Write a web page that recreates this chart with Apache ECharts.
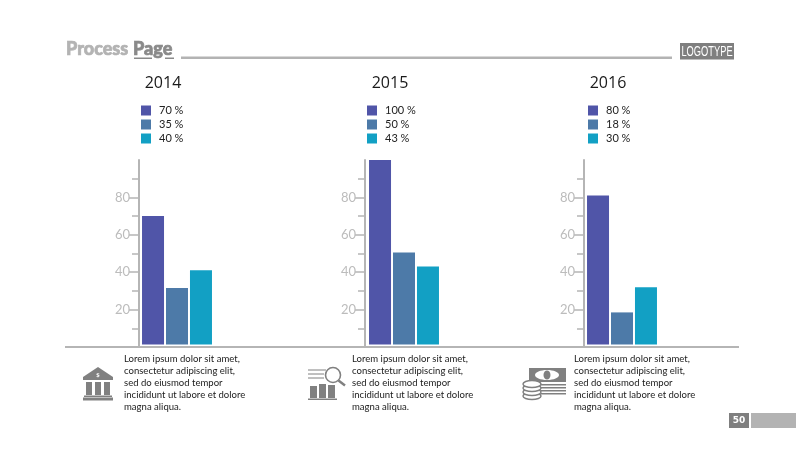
<!DOCTYPE html>
<html><head><meta charset="utf-8">
<style>html,body{margin:0;padding:0;background:#fff}#c{width:800px;height:454px}</style>
<script src="https://cdn.jsdelivr.net/npm/echarts@6/dist/echarts.min.js"></script>
</head><body><div id="c"></div>
<script>
const years = ['2014','2015','2016'];
const legend2014 = ['70 %','35 %','40 %'];
const legend2015 = ['100 %','50 %','43 %'];
const legend2016 = ['80 %','18 %','30 %'];
const values2014 = [70,31.5,41];
const values2015 = [100,50.5,43];
const values2016 = [81,18.5,32];
const majorTicks = [20,40,60,80];
const minorTicks = [10,30,50,70,90];
const colors = ['#5055a8','#4d7aa8','#12a0c4'];
const loremLines = ['Lorem ipsum dolor sit amet,','consectetur adipiscing elit,','sed do eiusmod tempor','incididunt ut labore et dolore','magna aliqua.'];

const legends=[legend2014,legend2015,legend2016], vals=[values2014,values2015,values2016];
const gridX=[139,365,584], gridW=[76,78,76], legX=[141,367,588], yearX=[163,390,608], textX=[124,352,574];
const AX='#b5b5b5', ICON='#808080', body='Open Sans';

const grid=[],xAxis=[],yAxis=[],series=[],legend=[],graphic=[];
const txt=(x,y,s,o,extra)=>Object.assign({type:'text',x,y,silent:true,z:20,style:Object.assign({text:s,fill:'#222',fontFamily:body,fontSize:10,textVerticalAlign:'middle'},o||{})},extra||{});
const rect=(x,y,w,h,f,z)=>({type:'rect',silent:true,z:z||20,shape:{x,y,width:w,height:h},style:{fill:f}});
const line=(x1,y1,x2,y2,c,w)=>({type:'line',silent:true,z:20,shape:{x1,y1,x2,y2},style:{stroke:c,lineWidth:w||1}});
const poly=(pts,f)=>({type:'polygon',silent:true,z:20,shape:{points:pts},style:{fill:f}});
const ring=(cx,cy,r,c,w)=>({type:'circle',silent:true,z:21,shape:{cx,cy,r},style:{fill:'#fff',stroke:c,lineWidth:w}});

years.forEach((yr,i)=>{
  grid.push({left:gridX[i],top:160,width:gridW[i],height:187});
  xAxis.push({type:'category',gridIndex:i,data:[yr],show:false});
  const base={type:'value',gridIndex:i,min:0,max:100,interval:20,splitLine:{show:false},position:'left'};
  yAxis.push(Object.assign({},base,{
    axisLine:{show:true,lineStyle:{color:AX,width:2}},
    axisTick:{show:true,length:10,customValues:majorTicks,lineStyle:{color:AX,width:1.5}},
    axisLabel:{customValues:majorTicks,color:'#bcbcbc',fontFamily:'Lato',fontSize:13,margin:9}
  }));
  yAxis.push(Object.assign({},base,{
    axisLine:{show:false},
    axisTick:{show:true,length:7,customValues:minorTicks,lineStyle:{color:AX,width:1.5}},
    axisLabel:{show:false}
  }));
  legends[i].forEach((nm,k)=>{
    series.push({type:'bar',name:nm,xAxisIndex:i,yAxisIndex:i*2,data:[vals[i][k]],barWidth:22,barGap:'9%',
      itemStyle:{color:colors[k]},animation:false,silent:true});
  });
  legend.push({data:legends[i],left:legX[i],top:105,padding:0,orient:'vertical',icon:'rect',itemWidth:10,itemHeight:10,itemGap:3,
    selectedMode:false,textStyle:{fontFamily:'Lato',fontSize:11,color:'#222',padding:[0,0,0,3]}});
  graphic.push(txt(yearX[i],83,yr,{fontSize:16,textAlign:'center',fill:'#1a1a1a'}));
  loremLines.forEach((l,k)=>graphic.push(txt(textX[i],359+12*k,l,{fontFamily:'Lato',fontSize:10,fill:'#1a1a1a'},{scaleX:0.955})));
  graphic.push(rect(gridX[i]+1.5,344.5,gridW[i]-1,1.5,'#fff'));
});

// Header and footer furniture
graphic.push(txt(66,49.5,'Process',{fontFamily:'Lato',fontWeight:900,fontSize:18,fill:'#b3b3b3',stroke:'#b3b3b3',lineWidth:0.7}));
graphic.push(txt(133,49.5,'Page',{fontFamily:'Lato',fontWeight:900,fontSize:18,fill:'#8a8a8a',stroke:'#8a8a8a',lineWidth:0.7}));
graphic.push(rect(134,57.5,18,1.5,'#8a8a8a'),rect(165,57.5,9,1.5,'#8a8a8a'));
graphic.push(rect(181,56.5,491,2.5,'#b3b3b3'));
graphic.push(rect(680,43,54,16.5,'#7f7f7f'));
graphic.push(txt(707,51.5,'LOGOTYPE',{fontFamily:'Liberation Sans',fontSize:15,fill:'#fff',textAlign:'center'},{scaleX:0.62}));
graphic.push(rect(65,346,674,2,'#b5b5b5'));
graphic.push(rect(729,413,20,15,'#7f7f7f'),rect(751,413,45,15,'#b3b3b3'));
graphic.push(txt(739,421,'50',{fontFamily:'DejaVu Sans',fontWeight:'bold',fontSize:9,fill:'#fff',textAlign:'center'}));

// Bank icon
graphic.push(poly([[98,367],[113,377],[113,380],[83,380],[83,377]],ICON));
graphic.push(txt(98,375,'$',{fontSize:6,fill:'#fff',fontWeight:'bold',textAlign:'center'}));
[86,95,104].forEach(x=>graphic.push(rect(x,382,6,13,ICON)));
graphic.push(rect(84,395.5,28,1.5,ICON),rect(83,397.5,30,3,ICON));
// Search-over-bars icon
[370,374,378].forEach((y,k)=>graphic.push(line(308,y,[326,324,324][k],y,ICON,1)));
graphic.push(rect(310,386,7,12,ICON),rect(319,384,7,14,ICON),rect(328,385,7,13,ICON),rect(308,398.5,29,1.5,ICON));
graphic.push(ring(333,375,7.5,ICON,1.6));
graphic.push(line(338.5,380.5,345,385.5,ICON,2.4));
// Money icon
graphic.push(rect(529,368,37,14,ICON));
graphic.push({type:'ellipse',silent:true,z:21,shape:{cx:547,cy:375,rx:12,ry:5},style:{fill:'#fff'}});
graphic.push({type:'ellipse',silent:true,z:22,shape:{cx:547,cy:375,rx:3.5,ry:4.5},style:{fill:ICON}});
[384,387,390,393].forEach(y=>graphic.push(rect(541,y,25,1.5,ICON)));
[396,392,388,384].forEach(cy=>{
  graphic.push({type:'ellipse',silent:true,z:23,shape:{cx:532,cy,rx:9,ry:3.6},style:{fill:'#fff',stroke:ICON,lineWidth:1.5}});
});

const chart=echarts.init(document.getElementById('c'),null,{renderer:'canvas'});
chart.setOption({animation:false,backgroundColor:'#fff',grid,xAxis,yAxis,series,legend,graphic:{elements:graphic}});
</script></body></html>
